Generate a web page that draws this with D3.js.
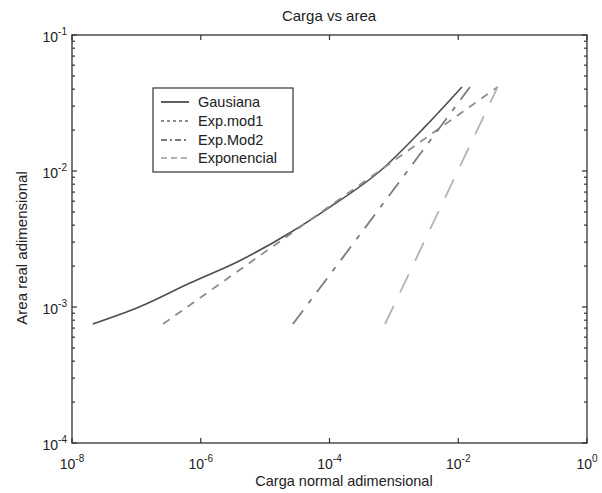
<!DOCTYPE html>
<html><head><meta charset="utf-8">
<script src="https://cdn.jsdelivr.net/npm/d3@7"></script>
<style>
body{margin:0;background:#fff}
svg{display:block}
text{font-family:"Liberation Sans",Arial,Helvetica,sans-serif;fill:#222}
</style>
</head><body>
<svg id="chart" width="602" height="493"></svg>
<script>
// ---- data ----
const chartTitle = "Carga vs area";
const xLabel = "Carga normal adimensional";
const yLabel = "Area real adimensional";
const seriesNames = ["Gausiana", "Exp.mod1", "Exp.Mod2", "Exponencial"];

const cargaGausiana = [2.1e-8, 1.1e-7, 6.8e-7, 4.1e-6, 2.4e-5, 1.0e-4, 6.1e-4, 3.0e-3, 1.14e-2];
const areaGausiana  = [7.5e-4, 1.0e-3, 1.5e-3, 2.2e-3, 3.5e-3, 5.4e-3, 1.0e-2, 2.1e-2, 4.15e-2];

const cargaExpMod1 = [2.6e-7, 1.0e-4, 4.1e-2];
const areaExpMod1  = [7.5e-4, 5.5e-3, 4.15e-2];

const cargaExpMod2 = [2.7e-5, 4.1e-3, 1.52e-2];
const areaExpMod2  = [7.5e-4, 1.8e-2, 4.15e-2];

const cargaExponencial = [7.3e-4, 4.1e-2];
const areaExponencial  = [7.5e-4, 4.15e-2];

const xTickExps = [-8, -6, -4, -2, 0];
const yTickExps = [-4, -3, -2, -1];

// ---- layout ----
const svg = d3.select("#chart");
const L = 72, R = 587, T = 35, B = 443;
const x = d3.scaleLog().domain([1e-8, 1]).range([L, R]);
const y = d3.scaleLog().domain([1e-4, 1e-1]).range([B, T]);

const styles = [
  {color: "#4d4d4d", width: 1.6, dash: null,          legDash: null},
  {color: "#8c8c8c", width: 1.8, dash: "8,7",         legDash: "3,3"},
  {color: "#7a7a7a", width: 1.8, dash: "17,9,5,9",    legDash: "6,3,2,3"},
  {color: "#b3b3b3", width: 1.8, dash: "20,15",       legDash: "6,4"}
];

const series = [
  cargaGausiana.map((c, i) => [c, areaGausiana[i]]),
  cargaExpMod1.map((c, i) => [c, areaExpMod1[i]]),
  cargaExpMod2.map((c, i) => [c, areaExpMod2[i]]),
  cargaExponencial.map((c, i) => [c, areaExponencial[i]])
];

// lines
const line = d3.line().x(d => x(d[0])).y(d => y(d[1])).curve(d3.curveMonotoneX);
series.forEach((s, i) => {
  svg.append("path").attr("d", line(s))
    .attr("fill", "none")
    .attr("stroke", styles[i].color)
    .attr("stroke-width", styles[i].width)
    .attr("stroke-dasharray", styles[i].dash)
    .attr("stroke-linecap", "butt");
});

// axes box
const axisColor = "#333";
svg.append("rect").attr("x", L).attr("y", T).attr("width", R - L).attr("height", B - T)
  .attr("fill", "none").attr("stroke", axisColor).attr("stroke-width", 1.3);

// x ticks (major only, inside, bottom and top)
xTickExps.forEach(e => {
  const px = x(Math.pow(10, e));
  svg.append("line").attr("x1", px).attr("x2", px).attr("y1", B).attr("y2", B - 5)
    .attr("stroke", axisColor).attr("stroke-width", 1.2);
  svg.append("line").attr("x1", px).attr("x2", px).attr("y1", T).attr("y2", T + 5)
    .attr("stroke", axisColor).attr("stroke-width", 1.2);
  const t = svg.append("text").attr("x", px).attr("y", B + 26).attr("text-anchor", "middle")
    .attr("font-size", 14);
  t.append("tspan").text("10");
  t.append("tspan").attr("dy", -7).attr("font-size", 10).text(String(e));
});

// y ticks major + minor
yTickExps.forEach(e => {
  const py = y(Math.pow(10, e));
  [[L, L + 5], [R, R - 5]].forEach(([a, b]) => {
    svg.append("line").attr("x1", a).attr("x2", b).attr("y1", py).attr("y2", py)
      .attr("stroke", axisColor).attr("stroke-width", 1.2);
  });
  const t = svg.append("text").attr("x", L - 5).attr("y", py + 7).attr("text-anchor", "end")
    .attr("font-size", 14);
  t.append("tspan").text("10");
  t.append("tspan").attr("dy", -7).attr("font-size", 10).text(String(e));
  if (e < -1) {
    for (let m = 2; m <= 9; m++) {
      const pm = y(m * Math.pow(10, e));
      [[L, L + 3], [R, R - 3]].forEach(([a, b]) => {
        svg.append("line").attr("x1", a).attr("x2", b).attr("y1", pm).attr("y2", pm)
          .attr("stroke", axisColor).attr("stroke-width", 1.2);
      });
    }
  }
});

// title and axis labels
svg.append("text").attr("x", 329).attr("y", 21).attr("text-anchor", "middle")
  .attr("font-size", 15).text(chartTitle);
svg.append("text").attr("x", 344).attr("y", 486).attr("text-anchor", "middle")
  .attr("font-size", 14.5).text(xLabel);
svg.append("text").attr("transform", "translate(27,248) rotate(-90)")
  .attr("text-anchor", "middle").attr("font-size", 15).text(yLabel);

// legend
const lg = svg.append("g");
lg.append("rect").attr("x", 153).attr("y", 88).attr("width", 140).attr("height", 84)
  .attr("fill", "#fff").attr("stroke", axisColor).attr("stroke-width", 1.2);
const rowY = [102, 121, 140, 158];
seriesNames.forEach((n, i) => {
  lg.append("line").attr("x1", 161).attr("x2", 189).attr("y1", rowY[i]).attr("y2", rowY[i])
    .attr("stroke", styles[i].color).attr("stroke-width", 1.8)
    .attr("stroke-dasharray", styles[i].legDash);
  lg.append("text").attr("x", 198).attr("y", rowY[i] + 5).attr("font-size", 14.5).text(n);
});
</script>
</body></html>
